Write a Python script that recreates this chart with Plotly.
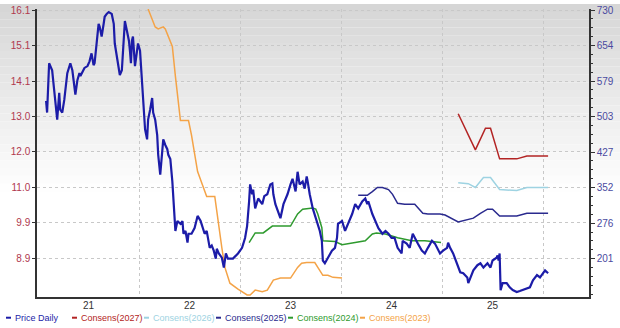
import plotly.graph_objects as go

# ---------------- data ----------------
price_x = [2021.08, 2021.09, 2021.11, 2021.14, 2021.16, 2021.19, 2021.21, 2021.22, 2021.24, 2021.26,
           2021.29, 2021.32, 2021.34, 2021.36, 2021.37, 2021.39, 2021.41, 2021.42, 2021.46, 2021.49,
           2021.51, 2021.53, 2021.55, 2021.56, 2021.58, 2021.60, 2021.61, 2021.63, 2021.65, 2021.66,
           2021.68, 2021.70, 2021.73, 2021.75, 2021.76, 2021.78, 2021.80, 2021.81, 2021.83, 2021.85,
           2021.86, 2021.88, 2021.90, 2021.91, 2021.92, 2021.93, 2021.94, 2021.96, 2021.98, 2021.99,
           2022.01, 2022.03, 2022.04, 2022.06, 2022.08, 2022.09, 2022.11, 2022.13, 2022.14, 2022.16,
           2022.18, 2022.19, 2022.21, 2022.23, 2022.24, 2022.26, 2022.28, 2022.29, 2022.31, 2022.33,
           2022.34, 2022.35, 2022.36, 2022.38, 2022.41, 2022.43, 2022.44, 2022.46, 2022.48, 2022.49,
           2022.52, 2022.55, 2022.58, 2022.61, 2022.63, 2022.65, 2022.67, 2022.70, 2022.72, 2022.74,
           2022.76, 2022.77, 2022.79, 2022.82, 2022.84, 2022.86, 2022.88, 2022.93, 2022.98, 2023.02,
           2023.05, 2023.07, 2023.09, 2023.10, 2023.12, 2023.13, 2023.15, 2023.18, 2023.22, 2023.24,
           2023.27, 2023.30, 2023.32, 2023.33, 2023.35, 2023.38, 2023.40, 2023.43, 2023.47, 2023.50,
           2023.52, 2023.55, 2023.57, 2023.59, 2023.62, 2023.64, 2023.66, 2023.67, 2023.69, 2023.72,
           2023.76, 2023.79, 2023.81, 2023.82, 2023.84, 2023.87, 2023.91, 2023.94, 2023.96, 2023.97,
           2024.01, 2024.04, 2024.07, 2024.11, 2024.14, 2024.17, 2024.21, 2024.24, 2024.26, 2024.27,
           2024.31, 2024.34, 2024.37, 2024.41, 2024.44, 2024.47, 2024.50, 2024.53, 2024.56, 2024.60,
           2024.61, 2024.65, 2024.68, 2024.71, 2024.73, 2024.76, 2024.80, 2024.83, 2024.86, 2024.90,
           2024.93, 2024.96, 2024.98, 2025.01, 2025.05, 2025.06, 2025.08, 2025.11, 2025.15, 2025.18,
           2025.21, 2025.25, 2025.26, 2025.28, 2025.31, 2025.35, 2025.38, 2025.41, 2025.45, 2025.48,
           2025.50, 2025.54, 2025.55, 2025.56, 2025.57, 2025.58, 2025.60, 2025.64, 2025.67, 2025.70,
           2025.74, 2025.77, 2025.80, 2025.84, 2025.87, 2025.90, 2025.94, 2025.97, 2026.00, 2026.02,
           2026.04, 2026.05]
price_y = [537, 512, 617, 602, 560, 497, 554, 518, 512, 539,
           596, 617, 602, 569, 550, 581, 596, 590, 607, 611,
           621, 638, 613, 617, 665, 701, 695, 674, 701, 716,
           722, 726, 722, 701, 659, 632, 596, 592, 602, 674,
           707, 686, 665, 644, 617, 665, 674, 611, 644, 659,
           644, 575, 533, 476, 455, 497, 518, 543, 512, 497,
           464, 422, 380, 434, 455, 443, 434, 422, 413, 365,
           323, 302, 260, 281, 275, 281, 254, 260, 235, 254,
           254, 266, 292, 281, 266, 254, 260, 224, 229, 218,
           201, 222, 212, 203, 182, 212, 201, 201, 212, 224,
           245, 270, 323, 359, 338, 348, 308, 329, 317, 334,
           338, 359, 361, 338, 317, 296, 287, 317, 338, 359,
           371, 344, 386, 359, 365, 350, 376, 365, 338, 308,
           281, 260, 239, 197, 191, 203, 218, 224, 245, 275,
           281, 260, 275, 296, 317, 308, 323, 329, 317, 323,
           296, 281, 266, 254, 260, 254, 245, 245, 224, 212,
           239, 233, 224, 254, 245, 233, 218, 212, 224, 239,
           233, 218, 212, 218, 224, 235, 224, 212, 191, 172,
           170, 161, 149, 161, 176, 187, 191, 182, 191, 182,
           197, 203, 208, 197, 212, 134, 149, 149, 140, 134,
           130, 132, 134, 138, 140, 155, 166, 161, 170, 176,
           172, 170]

c2027_x = [2025.16, 2025.33, 2025.43, 2025.48, 2025.57, 2025.74, 2025.84, 2026.05]
c2027_y = [13.10, 12.05, 12.68, 12.68, 11.79, 11.79, 11.87, 11.87]

c2026_x = [2025.16, 2025.26, 2025.33, 2025.41, 2025.48, 2025.57, 2025.74, 2025.84, 2026.05]
c2026_y = [11.10, 11.07, 10.96, 11.25, 11.25, 10.90, 10.87, 10.96, 10.96]

c2025_x = [2024.17, 2024.26, 2024.31, 2024.36, 2024.41, 2024.47, 2024.51, 2024.56, 2024.63, 2024.73,
           2024.81, 2024.86, 2024.98, 2025.03, 2025.16, 2025.31, 2025.38, 2025.45, 2025.50, 2025.57,
           2025.74, 2025.84, 2026.05]
c2025_y = [10.73, 10.73, 10.84, 10.96, 10.96, 10.90, 10.76, 10.50, 10.47, 10.47,
           10.21, 10.19, 10.19, 10.16, 9.96, 10.07, 10.21, 10.33, 10.33, 10.13,
           10.13, 10.21, 10.21]

c2024_x = [2023.09, 2023.15, 2023.23, 2023.32, 2023.50, 2023.57, 2023.62, 2023.72, 2023.75, 2023.77,
           2023.81, 2023.82, 2023.94, 2024.01, 2024.14, 2024.24, 2024.31, 2024.35, 2024.44, 2024.56,
           2024.70, 2024.83, 2024.99]
c2024_y = [9.36, 9.64, 9.64, 9.84, 9.84, 10.19, 10.33, 10.36, 10.33, 10.19,
           9.79, 9.41, 9.39, 9.30, 9.36, 9.41, 9.61, 9.64, 9.61, 9.50,
           9.41, 9.41, 9.36]

c2023_x = [2022.09, 2022.16, 2022.19, 2022.24, 2022.26, 2022.33, 2022.36, 2022.41, 2022.49, 2022.52,
           2022.58, 2022.67, 2022.75, 2022.78, 2022.82, 2022.85, 2022.90, 2022.98, 2023.07, 2023.10,
           2023.15, 2023.22, 2023.27, 2023.33, 2023.40, 2023.50, 2023.57, 2023.61, 2023.66, 2023.74,
           2023.77, 2023.82, 2023.87, 2023.92, 2024.01]
c2023_y = [16.14, 15.62, 15.56, 15.62, 15.56, 15.05, 14.19, 12.90, 12.90, 12.47,
           11.42, 10.70, 10.70, 9.99, 9.21, 8.64, 8.18, 8.01, 7.84, 7.84,
           7.98, 7.93, 7.98, 8.27, 8.33, 8.33, 8.64, 8.76, 8.78, 8.78,
           8.64, 8.41, 8.41, 8.35, 8.33]

year_ticks = [2021.5, 2022.5, 2023.5, 2024.5, 2025.5]
year_labels = ["21", "22", "23", "24", "25"]
year_bounds = [2022, 2023, 2024, 2025, 2026]

eps_ticks = [8.9, 9.93, 10.96, 11.99, 13.02, 14.05, 15.08, 16.11]
eps_labels = ["8.9", "9.9", "11.0", "12.0", "13.0", "14.1", "15.1", "16.1"]

price_ticks = [201, 276.6, 352.2, 427.8, 503.4, 579, 654.6, 730.2]
price_labels = ["201", "276", "352", "427", "503", "579", "654", "730"]

legend_names = ["Price Daily", "Consens(2027)", "Consens(2026)", "Consens(2025)", "Consens(2024)", "Consens(2023)"]

# ---------------- style ----------------
COL_PRICE = "#1c1ca8"
COL_2027 = "#b32424"
COL_2026 = "#9ed3e2"
COL_2025 = "#2a2a8e"
COL_2024 = "#2e9a2e"
COL_2023 = "#f4a347"
legend_colors = [COL_PRICE, COL_2027, COL_2026, COL_2025, COL_2024, COL_2023]
legend_px = [6, 72, 144, 216, 288, 360]
LEG_Y = 318

FONT = "Liberation Sans, Arial, sans-serif"

fig = go.Figure()

fig.add_trace(go.Scatter(x=c2023_x, y=c2023_y, mode="lines", line=dict(color=COL_2023, width=1.5), name=legend_names[5]))
fig.add_trace(go.Scatter(x=c2024_x, y=c2024_y, mode="lines", line=dict(color=COL_2024, width=1.5), name=legend_names[4]))
fig.add_trace(go.Scatter(x=c2025_x, y=c2025_y, mode="lines", line=dict(color=COL_2025, width=1.5), name=legend_names[3]))
fig.add_trace(go.Scatter(x=c2026_x, y=c2026_y, mode="lines", line=dict(color=COL_2026, width=1.5), name=legend_names[2]))
fig.add_trace(go.Scatter(x=c2027_x, y=c2027_y, mode="lines", line=dict(color=COL_2027, width=1.5), name=legend_names[1]))
fig.add_trace(go.Scatter(x=price_x, y=price_y, mode="lines", yaxis="y2",
                         line=dict(color=COL_PRICE, width=2.2), name=legend_names[0]))

# background gradient (grey at top fading to white)
shapes = []
n = 24
top_px, fade_px = 0, 190
for i in range(n):
    y0p = top_px + (fade_px - top_px) * i / n
    y1p = top_px + (fade_px - top_px) * (i + 1) / n
    g = int(214 + (255 - 214) * (i + 0.5) / n)
    shapes.append(dict(type="rect", xref="paper", yref="paper",
                       x0=-0.1, x1=1.1,
                       y0=(297 - y1p) / 292, y1=(297 - y0p) / 292,
                       fillcolor=f"rgb({g},{g},{g})", line=dict(width=0), layer="below"))

# legend: short coloured dash + coloured label
for col, px in zip(legend_colors, legend_px):
    shapes.append(dict(type="line", xref="paper", yref="paper",
                       x0=(px - 37) / 552, x1=(px + 5 - 37) / 552,
                       y0=(297 - LEG_Y) / 292, y1=(297 - LEG_Y) / 292,
                       line=dict(color=col, width=2)))

annotations = []
for name, col, px in zip(legend_names, legend_colors, legend_px):
    annotations.append(dict(xref="paper", yref="paper", x=(px + 7 - 37) / 552, y=(297 - LEG_Y) / 292,
                            xanchor="left", yanchor="middle", showarrow=False,
                            text=name, font=dict(family=FONT, size=9, color=col)))

fig.update_layout(
    width=620, height=328, autosize=False,
    margin=dict(l=37, r=31, t=5, b=31, pad=0),
    paper_bgcolor="white", plot_bgcolor="rgba(0,0,0,0)",
    showlegend=False,
    shapes=shapes, annotations=annotations,
    font=dict(family=FONT, size=10, color="#333333"),
    xaxis=dict(range=[2020.99, 2026.455], tickvals=year_ticks, ticktext=year_labels,
               showgrid=False, zeroline=False, ticks="", ticklabelstandoff=-2,
               showline=True, linecolor="#333333", linewidth=2,
               tickfont=dict(size=10, color="#333333"),
               minor=dict(tickvals=year_bounds, showgrid=True, gridcolor="#c8c8c8",
                          griddash="dot", gridwidth=1, ticks="")),
    yaxis=dict(range=[7.78, 16.14], tickvals=eps_ticks, ticktext=eps_labels,
               showgrid=True, gridcolor="#c8c8c8", griddash="dot", gridwidth=1,
               zeroline=False, ticks="outside", ticklen=3, tickcolor="#333333",
               showline=True, linecolor="#333333", linewidth=1.5,
               tickfont=dict(size=10, color="#b0384e")),
    yaxis2=dict(range=[119.3, 732.5], tickvals=price_ticks, ticktext=price_labels,
                overlaying="y", side="right", showgrid=False, zeroline=False,
                ticks="outside", ticklen=4, tickcolor="#333333",
                minor=dict(tick0=201, dtick=18.9, ticks="outside", ticklen=2, tickcolor="#333333"),
                showline=True, linecolor="#333333", linewidth=1.5,
                tickfont=dict(size=10, color="#4a4aa0")),
)

fig.write_html("out.html")
